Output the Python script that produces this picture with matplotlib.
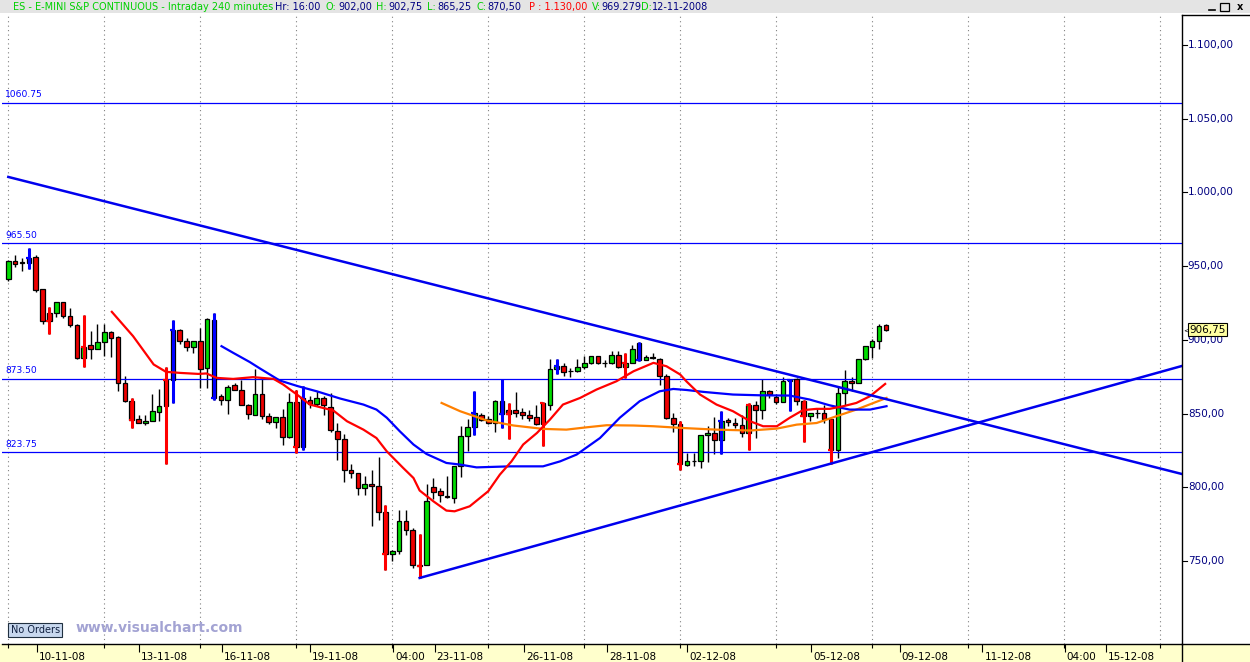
import matplotlib.pyplot as plt
import matplotlib.transforms as mtransforms
from matplotlib.patches import Rectangle
from matplotlib.lines import Line2D
import numpy as np

# ===============================================================
# DATOS (velas de 240 min)

opens = [941, 953.5, 952.5, 952.25, 956, 934.25, 918.25, 918, 925.5, 916,
         909.75, 887.75, 896.25, 894, 898.5, 905.25, 902, 870.5, 858.75, 846,
         843.5, 845.25, 851, 855, 873, 907, 899, 895.25, 899, 881,
         913.75, 861.75, 859.5, 869.25, 866.25, 856, 849.25, 863.5, 848.5, 844.25,
         847.5, 834, 857.75, 827.25, 859.5, 856.5, 860.5, 854.5, 838, 832.75,
         812, 809.75, 799.5, 802.5, 800.75, 783, 754.75, 757, 777, 770.75,
         747.5, 747.5, 800.25, 797.75, 794.25, 792.75, 814.25, 835, 841, 849.25,
         846.5, 843.5, 858.75, 852.75, 852.75, 851, 848.75, 847.5, 843.25, 856,
         880, 882.5, 878.75, 878.75, 881.5, 884, 889, 884, 884, 890,
         881.5, 884, 898, 886.25, 888.25, 887.25, 875.25, 847.25, 843.25, 815,
         817.5, 817.5, 835.25, 836.5, 831.75, 845.5, 843.5, 842.5, 836.75, 856,
         852.75, 865.5, 861, 858, 872, 873.75, 858.75, 848.25, 850.5, 850.5,
         846, 825.5, 864, 872, 870.75, 886.75, 895, 899, 910]
highs = [954, 957.25, 955.5, 962.5, 957.25, 934.5, 922.25, 925.75, 926, 921.75,
         910.75, 916.75, 906, 910.75, 910.5, 906.25, 902.75, 875.25, 860.25, 849.25,
         849.25, 863, 867, 881.5, 913.25, 907.25, 901.25, 899.5, 907.75, 914.5,
         918.25, 863.25, 869.25, 870.75, 872.5, 856.25, 880.5, 874.25, 850.5, 848,
         853, 864, 866.25, 868.5, 861.75, 865, 861.75, 864, 843.5, 836.25,
         815.5, 810, 807.5, 812, 820.25, 788.25, 757.5, 784.75, 784.75, 772.25,
         768, 802.25, 806.25, 799.5, 807.5, 814.5, 841.5, 846, 865.5, 850.5,
         848.25, 859.5, 873.75, 857.25, 864.5, 853.5, 852.25, 855.5, 858, 887.25,
         887.25, 884, 881, 886.75, 889, 889, 889, 886.25, 892.25, 892.25,
         891.25, 896.5, 898.5, 889.5, 891.25, 887.5, 876.5, 850.5, 845.25, 823.25,
         823.25, 835.25, 841.5, 847.5, 851.5, 847.25, 847, 848.75, 857.25, 858.5,
         873.5, 865.75, 863, 874.5, 873.25, 874, 859.5, 850.5, 853.75, 855.5,
         846, 868, 879.25, 874.5, 886.75, 895.75, 900.25, 910.75, 910.75]
lows = [940, 949.5, 947, 947.75, 932.5, 910.5, 904, 915.5, 914.75, 908.5,
        887, 881.5, 886.75, 893.5, 889, 888.25, 865.25, 858, 840.25, 843.5,
        842, 845, 844.75, 815.75, 857.25, 897.25, 892.25, 890.75, 867.5, 867.5,
        859.5, 856, 849.75, 866.25, 856, 846.5, 849, 846.5, 843, 840.25,
        828.5, 833.5, 823.25, 825.5, 853.75, 855, 849.25, 837.5, 818.75, 803.5,
        806.25, 795, 795, 773.5, 777.5, 744, 750.25, 755, 767.5, 745.25,
        738.5, 747, 792.25, 790, 792.75, 789.25, 807, 824.5, 835.75, 844.75,
        843, 837.5, 840.25, 832.5, 847.5, 846.5, 845.25, 842, 827.75, 852.75,
        876.5, 875.25, 874.5, 878.5, 880, 883.5, 883.5, 881.5, 883.5, 881,
        874.25, 884, 885.5, 886, 886.75, 869.5, 846.5, 837.5, 812, 814.75,
        814.25, 812.75, 817.25, 822.5, 822.25, 841.5, 840.5, 834, 825, 833.5,
        846.5, 860.5, 856.5, 857.75, 851.5, 855.5, 830.75, 844.75, 847.25, 843.5,
        815.75, 820, 855.5, 865, 870.75, 886.5, 887.75, 893.5, 906]
closes = [953.5, 951.75, 952, 955.5, 933.75, 912.5, 912.5, 925.5, 916, 909.75,
          887.75, 895, 894, 898.5, 905.25, 901.5, 870.5, 858.75, 845.5, 843.5,
          845.25, 851.5, 855, 873, 907, 899, 895.25, 899, 880.25, 914.25,
          860.25, 859.5, 868, 866.25, 856, 849.75, 863.5, 848.5, 844.25, 847.5,
          834, 857.75, 827.25, 860.5, 856.5, 860.5, 855.5, 839, 832.75, 812,
          809.75, 799.5, 802.5, 800.75, 783, 754.75, 757, 777, 770.75, 747.25,
          746.75, 791, 796.75, 794.5, 793.25, 814.25, 835, 841, 850.5, 845.5,
          843.5, 858.75, 849.75, 849.75, 850.5, 849, 847.25, 843.25, 857.25, 880,
          882.5, 878.25, 878.75, 881.5, 884, 889, 884, 884, 890, 881.5,
          884, 894, 886.25, 888.25, 888, 875.25, 847.25, 843.25, 815.5, 818,
          817.5, 835.25, 836.5, 831.75, 845.25, 844, 842.5, 836.75, 856, 852.75,
          865.5, 863, 858, 872, 873, 858.5, 848.25, 850.5, 850.5, 846.5,
          825.5, 864, 872, 870.5, 886.75, 895.75, 899, 909.25, 906.75]

# barras marcadas por el indicador (indice de barra)
blue_marks = [3, 24, 30, 43, 68, 72, 80, 92, 104, 114]
red_marks = [6, 11, 18, 23, 42, 55, 60, 73, 78, 90, 98, 108, 116, 120]

# medias moviles (barra, precio)
red_ma_x = [15.1, 18.2, 21.2, 23.0, 25.0, 27.7, 28.9, 30.4, 32.8, 35.7,
            38.7, 40.1, 42.1, 44.0, 45.5, 47.4, 49.4, 51.8, 53.7, 55.2,
            57.6, 59.1, 60.0, 62.0, 63.9, 65.1, 67.3, 70.0, 71.7, 73.4,
            75.1, 77.1, 79.0, 80.9, 83.4, 85.8, 88.7, 91.2, 94.1, 96.0,
            98.0, 98.9, 100.9, 103.3, 105.7, 108.2, 110.1, 112.1, 114.0, 115.9,
            117.9, 119.8, 121.8, 123.7, 125.7, 127.9]
red_ma_y = [919, 902.5, 883.3, 878.3, 877.6, 876.9, 877.2, 874.2, 873.5, 874.7,
            873.5, 869.7, 862.9, 856.1, 854.3, 852.1, 844.8, 839.1, 833.4, 824.4,
            813.1, 806.3, 797.8, 790.5, 784.2, 783.7, 787.1, 797.3, 808.6, 817.6,
            829, 836.8, 845.9, 856.1, 860.6, 866.3, 871.9, 878.7, 884.4, 882.1,
            876.5, 871.9, 862.9, 856.1, 851.6, 844.8, 841.4, 841.4, 847.2, 852.3,
            853.2, 853.2, 855, 857.2, 861.8, 870.1]
blue_ma_x = [31.1, 32.8, 35.2, 36.7, 39.6, 42.3, 45.0, 48.4, 51.8, 53.7,
             55.2, 57.1, 59.1, 61.0, 63.9, 65.9, 68.3, 73.2, 78.0, 80.5,
             82.9, 86.3, 89.2, 92.1, 95.0, 97.0, 98.9, 101.4, 105.7, 109.6,
             114.0, 116.9, 119.8, 122.7, 125.7, 128.1]
blue_ma_y = [895.7, 891.2, 885, 880.6, 872.4, 868.5, 865.1, 860.2, 856.1, 852.7,
             847.2, 838, 829, 822.6, 816.5, 815.4, 813.5, 814.2, 814.2, 817.6,
             822.2, 833.4, 847.2, 858.4, 865.1, 866.7, 866, 864.7, 862.9, 862.4,
             862.2, 859.5, 855.6, 852.7, 852.7, 855]
orange_ma_x = [63.2, 65.9, 69.8, 73.7, 78.0, 81.4, 84.4, 87.3, 91.2, 94.1,
               98.4, 103.3, 108.2, 112.1, 115.0, 117.9, 120.8, 123.7, 126.2, 128.1]
orange_ma_y = [857.2, 851.6, 845.3, 841.9, 839.6, 839.1, 840.7, 842.1, 841.9, 841.4,
               840.2, 839.1, 838.5, 839.8, 842.5, 843.6, 848.2, 852.7, 857.2, 860.6]

# lineas de tendencia y niveles horizontales
desc_x = [0, 171.2]
desc_y = [1010.5, 809]
asc_x = [60, 171.2]
asc_y = [738.5, 882.3]
levels = [1060.75, 965.50, 873.50, 823.75]
level_labels = ['1060.75', '965.50', '873.50', '823.75']

# eje de precios y fechas
price_ticks = [750, 800, 850, 900, 950, 1000, 1050, 1100]
price_labels = ['750,00', '800,00', '850,00', '900,00', '950,00',
                '1.000,00', '1.050,00', '1.100,00']
last_price = 906.75
date_pos = [4.2, 19.1, 31.2, 44.0, 56.1, 62.2, 75.2, 87.3, 99.0, 117.1,
            130.0, 142.1, 154.1, 160.1]
date_labels = ['10-11-08', '13-11-08', '16-11-08', '19-11-08', '04:00', '23-11-08',
               '26-11-08', '28-11-08', '02-12-08', '05-12-08', '09-12-08', '11-12-08',
               '04:00', '15-12-08']
grid_pos = list(range(0, 170, 14))

# ===============================================================
# FIGURA

W, H = 1250, 662
fig = plt.figure(figsize=(W / 100, H / 100), dpi=100)
fig.patch.set_facecolor('white')


def fx(px):
    return px / W


def fy(py):
    return 1 - py / H


ylo, yhi = 693.7, 1121.7

ax = fig.add_axes([fx(2), fy(644), fx(1182) - fx(2), fy(13) - fy(644)])
ax.set_xlim(-0.92, 171.2)
ax.set_ylim(ylo, yhi)
for s in ['top', 'left', 'right']:
    ax.spines[s].set_visible(False)
ax.spines['bottom'].set_linewidth(1.0)
ax.set_yticks([])

# rejilla punteada
ax.vlines(grid_pos, ylo, yhi, colors='#808080', linestyles=(0, (1, 3)), lw=0.8, zorder=1)

# velas
idx = np.arange(len(opens))
o = np.array(opens)
hi = np.array(highs)
lo = np.array(lows)
c = np.array(closes)
up = c >= o
ax.vlines(idx, lo, hi, color='black', lw=1.0, zorder=2)
ax.bar(idx, np.abs(c - o), bottom=np.minimum(o, c), width=0.68,
       color=np.where(up, '#00DD00', '#EE0000'), edgecolor='black', linewidth=0.9, zorder=3)

# marcas del indicador
for marks, col in [(blue_marks, '#0000FF'), (red_marks, '#FF0000')]:
    for i in marks:
        ax.vlines(i, lo[i], hi[i], color=col, lw=2.2, zorder=4)
        ax.hlines(c[i], i - 0.45, i, color=col, lw=1.6, zorder=4)

# medias moviles
ax.plot(orange_ma_x, orange_ma_y, color='#FF8000', lw=1.6, zorder=5, solid_joinstyle='round')
ax.plot(blue_ma_x, blue_ma_y, color='#0000FF', lw=1.6, zorder=5, solid_joinstyle='round')
ax.plot(red_ma_x, red_ma_y, color='#FF0000', lw=1.6, zorder=5, solid_joinstyle='round')

# tendencias
ax.plot(desc_x, desc_y, color='#0000EE', lw=1.8, zorder=5)
ax.plot(asc_x, asc_y, color='#0000EE', lw=1.8, zorder=5)

# niveles
for v, lab in zip(levels, level_labels):
    ax.axhline(v, color='#0000FF', lw=0.9, zorder=2)
    ax.annotate(lab, (-0.5, v), xytext=(0, 2.5), textcoords='offset points',
                fontsize=6.6, color='#0000FF', va='bottom', ha='left')

# eje x
ax.set_xticks(date_pos)
ax.set_xticklabels(date_labels, fontsize=7.5, ha='left')
ax.set_xticks(grid_pos, minor=True)
ax.tick_params(axis='x', which='major', length=5.5, width=0.8, pad=0.5, color='black')
ax.tick_params(axis='x', which='minor', length=3, width=0.8)
offset = mtransforms.ScaledTranslation(2 / 100, 0, fig.dpi_scale_trans)
for lab in ax.get_xticklabels():
    lab.set_transform(lab.get_transform() + offset)

# eje de precios (derecha)
ax2 = fig.add_axes([fx(1182), fy(644), fx(1250) - fx(1182), fy(15) - fy(644)])
ax2.set_xlim(0, 1)
ax2.set_ylim(ylo, ylo + (yhi - ylo) * (644 - 15) / (644 - 13))
ax2.set_xticks([])
ax2.set_yticks([])
ax2.spines['right'].set_visible(False)
for s in ['left', 'top', 'bottom']:
    ax2.spines[s].set_linewidth(1.0)
for v, lab in zip(price_ticks, price_labels):
    ax2.plot([0, 0.07], [v, v], color='black', lw=0.8)
    ax2.text(0.085, v, lab, fontsize=7.5, color='#000080', va='center', ha='left')
ax2.text(0.11, last_price, '906,75', fontsize=7.5, color='black', va='center', ha='left', zorder=5,
         bbox=dict(boxstyle='square,pad=0.15', fc='#FFFFA0', ec='black', lw=0.8))
ax2.text(0.025, last_price, '<', fontsize=5, color='black', va='center', ha='left')

# franjas de fondo
fig.patches.append(Rectangle((0, 0), 1, fy(644), transform=fig.transFigure,
                             facecolor='#FFFFCC', edgecolor='none', zorder=-1))
fig.patches.append(Rectangle((0, fy(13)), 1, 13 / H, transform=fig.transFigure,
                             facecolor='#E4E4E4', edgecolor='none', zorder=-1))
fig.add_artist(Line2D([fx(1182), fx(1182)], [0, fy(644)], color='black', lw=1.0))

# cabecera
green, navy, red = '#00D000', '#000080', '#FF0000'
header = [(13, 'ES - E-MINI S&P CONTINUOUS - Intraday 240 minutes', green),
          (275, 'Hr: 16:00', navy), (325, 'O:', green), (338, '902,00', navy),
          (376, 'H:', green), (388, '902,75', navy), (427, 'L:', green), (437, '865,25', navy),
          (476, 'C:', green), (487, '870,50', navy), (529, 'P : 1.130,00', red),
          (592, 'V:', green), (601, '969.279', navy), (641, 'D:', green),
          (652, '12-11-2008', navy)]
for px, txt, col in header:
    fig.text(fx(px), fy(7), txt, fontsize=7, color=col, va='center', ha='left')

# botones de ventana
fig.add_artist(Line2D([fx(1209), fx(1215)], [fy(10), fy(10)], color='black', lw=1.2))
fig.patches.append(Rectangle((fx(1220), fy(11)), 9 / W, 8 / H, transform=fig.transFigure,
                             facecolor='none', edgecolor='black', lw=0.9))
fig.text(fx(1237), fy(7), 'x', fontsize=7, fontweight='bold', va='center', ha='left')

# etiquetas inferiores
fig.patches.append(Rectangle((fx(8), fy(637)), 54 / W, 14 / H, transform=fig.transFigure,
                             facecolor='#C8D8EE', edgecolor='#203040', lw=0.8, zorder=2))
fig.text(fx(11), fy(630), 'No Orders', fontsize=7, color='#102040', va='center', ha='left')
fig.text(fx(76), fy(628), 'www.visualchart.com', fontsize=10, fontweight='bold',
         color='#A3A3D3', va='center', ha='left')

fig.savefig('out.png', dpi=100)
